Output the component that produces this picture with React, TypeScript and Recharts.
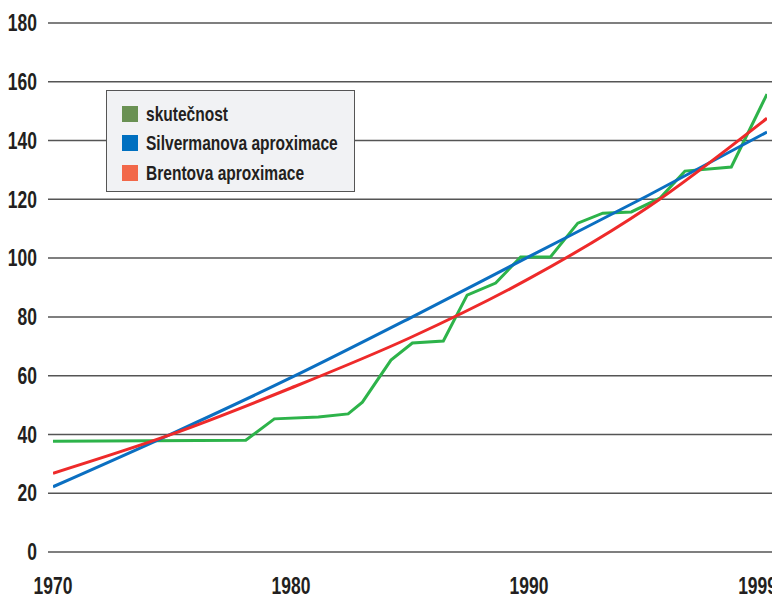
import React from "react";
import { LineChart, Line, XAxis, YAxis, CartesianGrid } from "recharts";

// x tick positions and their printed labels
const xTicks = [1970, 1980, 1990, 2000];
const xTickLabels = ["1970", "1980", "1990", "1999"];
const yTicks = [0, 20, 40, 60, 80, 100, 120, 140, 160, 180];

// skutečnost (actual)
const actualYears = [1970, 1978.1, 1979.3, 1981.15, 1982.4, 1983.0, 1984.2, 1985.1, 1986.4, 1987.4, 1988.6, 1989.65, 1990.9, 1992.05, 1993.1, 1994.3, 1995.5, 1996.55, 1998.5, 2000];
const actualValues = [37.7, 38.0, 45.3, 45.9, 47.0, 51.0, 65.3, 71.1, 71.8, 87.4, 91.5, 100.4, 100.4, 111.9, 115.3, 115.7, 120.4, 129.6, 131.0, 155.8];

// Silvermanova aproximace
const silvermanYears = [1970, 1975, 1980, 1985, 1990, 1995, 2000];
const silvermanValues = [22.2, 40.3, 59.3, 79.6, 100.5, 121.3, 142.9];

// Brentova aproximace
const brentYears = [1970, 1975, 1980, 1985, 1990, 1995, 2000];
const brentValues = [26.8, 40.1, 55.8, 72.9, 93.0, 117.3, 147.6];

const seriesNames = ["skutečnost", "Silvermanova aproximace", "Brentova aproximace"];
const legendColors = ["#6a9153", "#0070c0", "#f26849"];
const lineColors = ["#2db34a", "#0b6fc1", "#ee2a2a"];

const actualData = actualYears.map((year, i) => ({ year, value: actualValues[i] }));
const silvermanData = silvermanYears.map((year, i) => ({ year, value: silvermanValues[i] }));
const brentData = brentYears.map((year, i) => ({ year, value: brentValues[i] }));

const FONT = '"Liberation Sans", Arial, sans-serif';
const TEXT = "#231f20";
const SQUEEZE = 0.76;

const LegendBox = () => (
  <div
    style={{
      position: "absolute",
      left: 98,
      top: 82,
      width: 249,
      height: 102,
      boxSizing: "border-box",
      background: "#f1f2f4",
      border: "1.5px solid #555",
      paddingTop: 8,
      paddingLeft: 14.5,
      fontFamily: FONT,
      fontWeight: "bold",
      fontSize: 21,
      color: TEXT,
      whiteSpace: "nowrap",
    }}
  >
    {seriesNames.map((name, i) => (
      <div key={name} style={{ display: "flex", alignItems: "center", height: 29.5 }}>
        <span style={{ display: "inline-block", flex: "none", width: 16, height: 16, background: legendColors[i], marginRight: 8 }} />
        <span style={{ display: "inline-block", transform: `scaleX(${SQUEEZE - 0.02})`, transformOrigin: "left center" }}>{name}</span>
      </div>
    ))}
  </div>
);

const XTick = (props: any) => {
  const { x, y, payload } = props;
  const idx = xTicks.indexOf(payload.value);
  const label = xTickLabels[idx] ?? String(payload.value);
  const last = idx === xTicks.length - 1;
  return (
    <g transform={`translate(${last ? x + 10 : x},${y + 2})`}>
      <text transform={`scale(${SQUEEZE},1)`} x={0} y={0} dy="0.71em" textAnchor={last ? "end" : "middle"} fill={TEXT} fontFamily={FONT} fontWeight="bold" fontSize={23}>
        {label}
      </text>
    </g>
  );
};

const YTick = (props: any) => {
  const { x, y, payload } = props;
  return (
    <g transform={`translate(${x},${y})`}>
      <text transform={`scale(${SQUEEZE},1)`} x={0} y={0} dy="0.355em" textAnchor="end" fill={TEXT} fontFamily={FONT} fontWeight="bold" fontSize={23}>
        {payload.value}
      </text>
    </g>
  );
};

export default function App() {
  return (
    <div style={{ width: 772, height: 591, position: "relative" }}>
      <LineChart width={772} height={591} margin={{ top: 15, right: 0, bottom: 0, left: 0 }}>
        <CartesianGrid vertical={false} stroke="#555" strokeWidth={1.5} />
        <XAxis
          dataKey="year"
          type="number"
          domain={[1970, 2000]}
          ticks={xTicks}
          allowDataOverflow
          axisLine={false}
          tickLine={false}
          tickSize={0}
          tickMargin={24}
          height={47}
          padding={{ left: 5, right: 13 }}
          tick={<XTick />}
          interval={0}
        />
        <YAxis
          type="number"
          domain={[0, 180]}
          ticks={yTicks}
          axisLine={false}
          tickLine={false}
          tickSize={0}
          tickMargin={11}
          width={40}
          interval={0}
          tick={<YTick />}
        />
        <Line data={actualData} dataKey="value" name={seriesNames[0]} type="linear" stroke={lineColors[0]} strokeWidth={3} dot={false} isAnimationActive={false} />
        <Line data={silvermanData} dataKey="value" name={seriesNames[1]} type="monotone" stroke={lineColors[1]} strokeWidth={3} dot={false} isAnimationActive={false} />
        <Line data={brentData} dataKey="value" name={seriesNames[2]} type="monotone" stroke={lineColors[2]} strokeWidth={3} dot={false} isAnimationActive={false} />
      </LineChart>
      <LegendBox />
    </div>
  );
}
